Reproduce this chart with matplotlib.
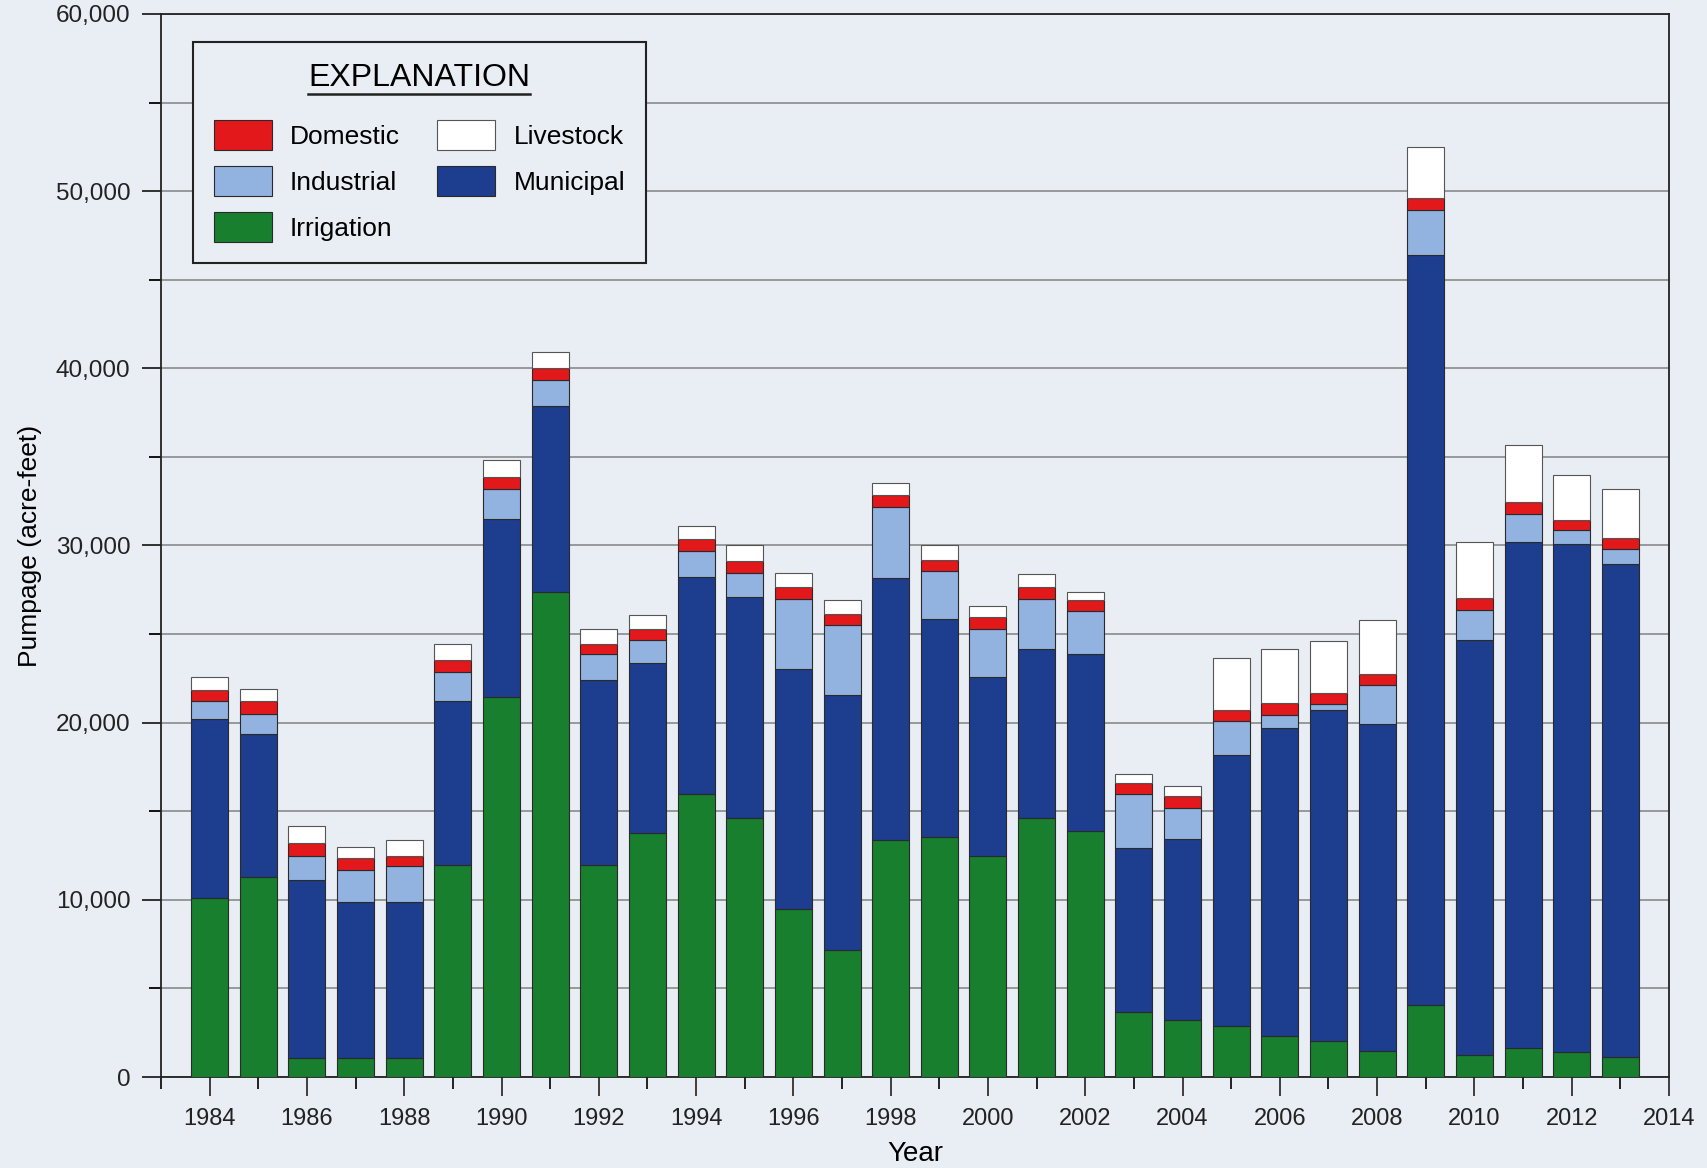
import matplotlib
matplotlib.use("Agg")
import matplotlib.pyplot as plt
import numpy as np
from matplotlib.lines import Line2D
from matplotlib.ticker import MultipleLocator, FuncFormatter

plt.rcParams['font.family'] = ['Liberation Sans', 'DejaVu Sans']

years = list(range(1984, 2014))
irrigation = [10100, 11300, 1100, 1100, 1100, 11950, 21450, 27400, 11950, 13800,
              16000, 14600, 9500, 7150, 13400, 13550, 12450, 14600, 13900, 3650,
              3200, 2900, 2300, 2050, 1450, 4050, 1250, 1650, 1400, 1150]
municipal = [10100, 8050, 10000, 8750, 8800, 9300, 10050, 10500, 10450, 9550,
             12250, 12500, 13550, 14400, 14750, 12300, 10100, 9550, 9950, 9300,
             10250, 15250, 17400, 18650, 18450, 42350, 23400, 28550, 28700, 27800]
industrial = [1050, 1150, 1400, 1850, 2000, 1600, 1700, 1450, 1450, 1300,
              1450, 1350, 3950, 3950, 4050, 2700, 2750, 2850, 2450, 3000,
              1750, 1950, 750, 350, 2200, 2550, 1700, 1600, 750, 850]
domestic = [600, 700, 700, 650, 600, 700, 650, 650, 600, 650,
            650, 650, 650, 650, 650, 650, 650, 650, 650, 650,
            650, 600, 650, 650, 650, 650, 700, 650, 600, 600]
livestock = [700, 700, 950, 650, 850, 900, 950, 950, 850, 800,
             750, 900, 800, 800, 700, 850, 650, 750, 450, 500,
             550, 2950, 3050, 2900, 3050, 2900, 3150, 3250, 2550, 2800]

series = [
    ("Irrigation", irrigation, "#187f2e"),
    ("Municipal", municipal, "#1d3d8e"),
    ("Industrial", industrial, "#92b2e0"),
    ("Domestic", domestic, "#e3181a"),
    ("Livestock", livestock, "#ffffff"),
]

bg = "#e9edf4"
fig = plt.figure(figsize=(17.08, 11.68), dpi=100, facecolor=bg)
ax = fig.add_axes([161 / 1708, 1 - 1077 / 1168, (1669 - 161) / 1708, (1077 - 14) / 1168])
ax.set_facecolor(bg)

bottom = np.zeros(len(years))
bars = {}
for name, vals, col in series:
    ec = "#555555" if name == "Livestock" else "#2a2a2a"
    bars[name] = ax.bar(years, vals, width=0.76, bottom=bottom, color=col,
                        edgecolor=ec, linewidth=0.8, zorder=3)
    bottom += np.array(vals)

ax.set_xlim(1983, 2014)
ax.set_ylim(0, 60000)
ax.xaxis.set_major_locator(MultipleLocator(2))
ax.xaxis.set_minor_locator(MultipleLocator(1))
ax.yaxis.set_major_locator(MultipleLocator(10000))
ax.yaxis.set_minor_locator(MultipleLocator(5000))
ax.yaxis.set_major_formatter(FuncFormatter(lambda v, p: f"{int(v):,}"))
ax.grid(axis='y', which='both', color='#8a8a8a', linewidth=1.2, zorder=0)

ax.tick_params(axis='x', which='major', direction='out', length=14, width=1.2,
               labelsize=17, pad=8, colors='#222222')
ax.tick_params(axis='x', which='minor', direction='out', length=8.6, width=1.2)
ax.tick_params(axis='y', which='major', direction='out', length=14, width=1.3,
               labelsize=17.5, pad=8, colors='#222222')
ax.tick_params(axis='y', which='minor', direction='out', length=8.6, width=1.3)
for s in ax.spines.values():
    s.set_color('#222222')
    s.set_linewidth(1.3)

ax.set_xlabel("Year", fontsize=20, labelpad=8)
ax.set_ylabel("Pumpage (acre-feet)", fontsize=19, labelpad=10)

order = ["Domestic", "Industrial", "Irrigation", "Livestock", "Municipal"]
leg = fig.legend([bars[n] for n in order], order, ncol=2,
                 loc='upper left', bbox_to_anchor=(193 / 1708, 1 - 42 / 1168),
                 borderaxespad=0, fontsize=19, title="EXPLANATION",
                 title_fontsize=23, frameon=True, fancybox=False,
                 facecolor=bg, edgecolor='#222222', framealpha=1,
                 handlelength=2.2, handleheight=1.35, handletextpad=0.7,
                 columnspacing=1.4, labelspacing=0.62, borderpad=0.78)
leg.get_frame().set_linewidth(1.5)
leg._legend_box.sep = 20

fig.canvas.draw()
tb = leg.get_title().get_window_extent().transformed(fig.transFigure.inverted())
fig.add_artist(Line2D([tb.x0, tb.x1], [tb.y0 - 0.001, tb.y0 - 0.001],
                      color='#222222', linewidth=1.8, transform=fig.transFigure,
                      zorder=10))

fig.savefig("out.png", dpi=100, facecolor=bg)
